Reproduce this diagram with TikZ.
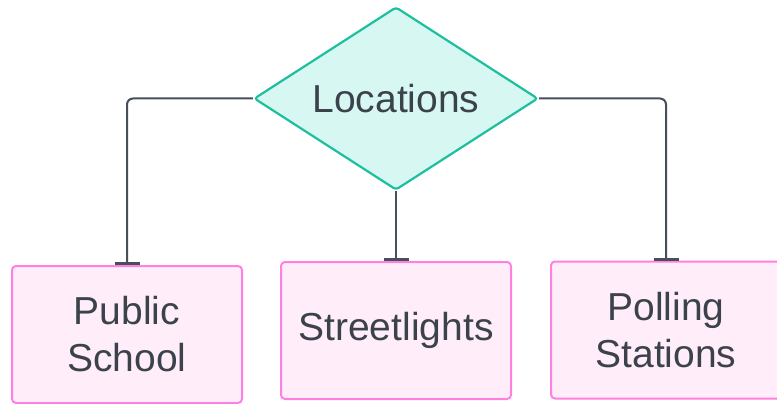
\documentclass[tikz,border=0pt]{standalone}
\usepackage{fontspec}
\setmainfont{Liberation Sans}
\usetikzlibrary{shapes.geometric,arrows.meta}

\definecolor{inkgray}{HTML}{3B424C}
\definecolor{wiregray}{HTML}{474F5A}
\definecolor{tealline}{HTML}{1DBF9F}
\definecolor{tealfill}{HTML}{D7F8F2}
\definecolor{pinkline}{HTML}{FF80E0}
\definecolor{pinkfill}{HTML}{FFEEFA}

\tikzset{
    hub/.style={diamond, draw=tealline, fill=tealfill, line width=2.2pt,
        rounded corners=3pt, minimum width=284pt, minimum height=183pt,
        inner sep=0pt},
    place/.style={rectangle, draw=pinkline, fill=pinkfill, line width=2pt,
        rounded corners=4pt, minimum width=230pt, minimum height=137pt,
        align=center},
    wire/.style={draw=wiregray, line width=2pt, rounded corners=6pt,
        -{Bar[width=25pt,line width=3pt]}},
}

\begin{document}
\begin{tikzpicture}[x=1pt,y=-1pt,text=inkgray,font=\fontsize{39}{47}\selectfont]
    \useasboundingbox (0,0) rectangle (777,404);
    % ひし形の親ノード（文字はラベルにして大きさを固定）
    \node[hub, label=center:Locations] (loc) at (396,98.5) {};
    % 下の三つの箱
    \node[place] (school) at (127,334.5) {Public\\School};
    \node[place] (lights) at (396,330.5) {Streetlights};
    \node[place] (polling) at (666,330) {Polling\\Stations};
    % つなぎ線
    \draw[wire] (loc.west) -| (school.north);
    \draw[wire] (loc.south) -- (lights.north);
    \draw[wire] (loc.east) -| (polling.north);
\end{tikzpicture}
\end{document}
